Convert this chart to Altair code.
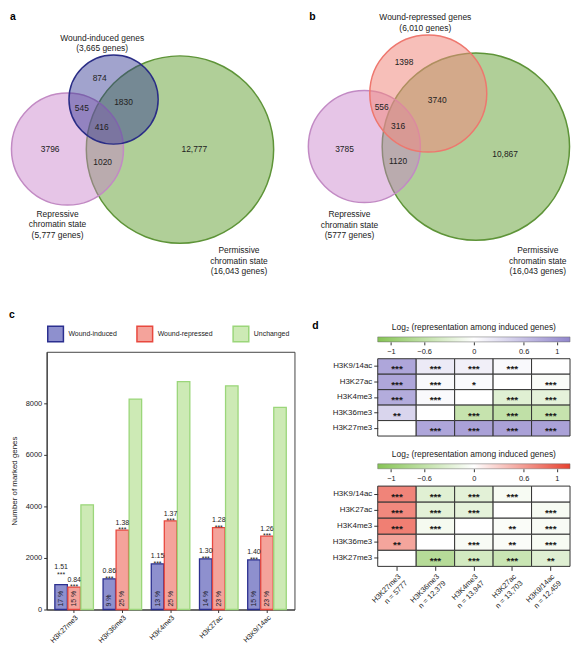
import altair as alt
import pandas as pd

# ---------------- data ----------------
venn_a_counts = ["874", "1830", "545", "416", "3796", "1020", "12,777"]
venn_a_titles = ["Wound-induced genes", "(3,665 genes)",
                 "Repressive", "chromatin state", "(5,777 genes)",
                 "Permissive", "chromatin state", "(16,043 genes)"]
venn_b_counts = ["1398", "3740", "556", "316", "3785", "1120", "10,867"]
venn_b_titles = ["Wound-repressed genes", "(6,010 genes)",
                 "Repressive", "chromatin state", "(5777 genes)",
                 "Permissive", "chromatin state", "(16,043 genes)"]

marks = ["H3K27me3", "H3K36me3", "H3K4me3", "H3K27ac", "H3K9/14ac"]
groups = ["Wound-induced", "Wound-repressed", "Unchanged"]
induced = [962, 1192, 1769, 1962, 1923]
repressed = [872, 3077, 3436, 3179, 2846]
unchanged = [4064, 8167, 8846, 8679, 7846]
induced_ratio = ["1.51", "0.86", "1.15", "1.30", "1.40"]
repressed_ratio = ["0.84", "1.38", "1.37", "1.28", "1.26"]
induced_pct = ["17 %", "9 %", "13 %", "14 %", "15 %"]
repressed_pct = ["15 %", "25 %", "25 %", "23 %", "23 %"]
y_ticks = [0, 2000, 4000, 6000, 8000]

hm_rows = ["H3K9/14ac", "H3K27ac", "H3K4me3", "H3K36me3", "H3K27me3"]
hm_cols = ["H3K27me3", "H3K36me3", "H3K4me3", "H3K27ac", "H3K9/14ac"]
hm_n = ["n = 5777", "n = 12,379", "n = 13,947", "n = 13,703", "n = 12,459"]
ind_vals = [
    [0.85, 0.20, 0.15, 0.06, 0.0],
    [0.85, 0.06, 0.05, 0.0, -0.05],
    [0.80, 0.06, 0.0, -0.30, -0.25],
    [0.40, 0.0, -0.55, -0.60, -0.55],
    [0.0, 0.85, 0.90, 0.90, 0.90],
]
ind_stars = [
    ["***", "***", "***", "***", ""],
    ["***", "***", "*", "", "***"],
    ["***", "***", "", "***", "***"],
    ["**", "", "***", "***", "***"],
    ["", "***", "***", "***", "***"],
]
rep_vals = [
    [0.75, -0.30, -0.27, -0.08, 0.0],
    [0.72, -0.27, -0.25, 0.0, -0.08],
    [0.78, -0.10, 0.0, -0.05, -0.07],
    [0.55, 0.0, -0.07, -0.05, -0.08],
    [0.0, -0.70, -0.42, -0.52, -0.31],
]
rep_stars = [
    ["***", "***", "***", "***", ""],
    ["***", "***", "***", "", "***"],
    ["***", "***", "", "**", "***"],
    ["**", "", "***", "**", "***"],
    ["", "***", "***", "***", "**"],
]
cb_ticks = [-1, -0.6, 0, 0.6, 1]
cb_title = "Log\u2082 (representation among induced genes)"

# ---------------- layout / style ----------------
FONT = "Liberation Sans"
TXT = "#222222"
HT = 297
A_CIRCLES = [(180.5, 147, 94.5), (67, 146.5, 56.5), (113.5, 96.5, 45)]
A_FILL = ["#6FA843", "#C77FC9", "#2F3391"]
A_STROKE = ["#5E9438", "#C28AC4", "#2A2D86"]
A_OP = [0.55, 0.45, 0.45]
A_COUNT_POS = [(99.5, 75), (123.5, 99.5), (81.5, 105.5), (101.5, 124),
               (49.5, 146.5), (102.5, 159.5), (195, 146.5)]
A_TITLE_POS = [(102, 34), (102, 44.5), (57, 212), (57, 222.5), (57, 233),
               (240, 248.5), (240, 259), (240, 269.5)]
B_CIRCLES = [(477, 144, 94.5), (364.5, 144, 56.5), (429, 90.5, 59)]
B_FILL = ["#6FA843", "#C77FC9", "#F08A80"]
B_STROKE = ["#5E9438", "#C28AC4", "#EE776E"]
B_OP = [0.55, 0.45, 0.55]
B_COUNT_POS = [(404.5, 58.5), (438, 97.5), (382, 104.5), (398.5, 123.5),
               (344.5, 146.5), (398.5, 158.5), (506.5, 151.5)]
B_TITLE_POS = [(426, 13.5), (426, 24), (349.5, 212.5), (349.5, 223), (349.5, 233.5),
               (539.5, 248.5), (539.5, 259), (539.5, 269.5)]

BAR_FILL = ["#8E90CE", "#F4A39B", "#CDEAB5"]
BAR_STROKE = ["#2B2F8F", "#E8483E", "#9BD67A"]
GREEN_END = "#86C455"
PURPLE_END = "#9186CC"
RED_END = "#E8412F"
CB_DOMAIN = [-1.16, 1.16]
CB_W = 194

IND = dict(fill="independent", stroke="independent", color="independent")


def letter(t, x, y):
    return alt.Chart(pd.DataFrame({"t": [t]})).mark_text(
        fontSize=10.5, fontWeight="bold", color="black", align="left", baseline="top").encode(
        x=alt.value(x), y=alt.value(y), text="t:N")


def venn(xdom, width, circles, fills, strokes, ops, counts, cpos, titles, tpos, let, let_x):
    cdf = pd.DataFrame({
        "x": [c[0] for c in circles], "y": [c[1] for c in circles],
        "size": [4 * c[2] ** 2 for c in circles],
        "fill": fills, "stroke": strokes, "op": ops, "order": [0, 1, 2],
    })
    xs = alt.Scale(domain=xdom, nice=False, zero=False)
    ys = alt.Scale(domain=[8, 8 + HT], nice=False, zero=False, reverse=True)
    circ = alt.Chart(cdf).mark_circle(opacity=1, strokeWidth=1.5).encode(
        x=alt.X("x:Q", scale=xs, axis=None),
        y=alt.Y("y:Q", scale=ys, axis=None),
        size=alt.Size("size:Q", scale=None),
        fill=alt.Fill("fill:N", scale=None),
        stroke=alt.Stroke("stroke:N", scale=None),
        fillOpacity=alt.FillOpacity("op:Q", scale=None),
        order="order:Q",
    )
    tdf = pd.DataFrame({
        "x": [p[0] for p in cpos] + [p[0] for p in tpos] + [let_x],
        "y": [p[1] for p in cpos] + [p[1] for p in tpos] + [8],
        "t": counts + titles + [let],
        "kind": ["n"] * (len(cpos) + len(tpos)) + ["letter"],
    })
    txt = alt.Chart(tdf).transform_filter("datum.kind == 'n'").mark_text(
        fontSize=8.5, color=TXT, baseline="middle").encode(
        x=alt.X("x:Q", scale=xs, axis=None), y=alt.Y("y:Q", scale=ys, axis=None), text="t:N")
    let_t = alt.Chart(tdf).transform_filter("datum.kind == 'letter'").mark_text(
        fontSize=10.5, fontWeight="bold", color="black", align="left", baseline="top").encode(
        x=alt.X("x:Q", scale=xs, axis=None), y=alt.Y("y:Q", scale=ys, axis=None), text="t:N")
    return alt.layer(circ, txt, let_t).properties(width=width, height=HT)


# panel a's plot origin sits where panel c's plot starts (x = 46)
venn_a = venn([46, 293], 247, A_CIRCLES, A_FILL, A_STROKE, A_OP, venn_a_counts,
              A_COUNT_POS, venn_a_titles, A_TITLE_POS, "a", 9)
venn_b = venn([293, 573], 280, B_CIRCLES, B_FILL, B_STROKE, B_OP, venn_b_counts,
              B_COUNT_POS, venn_b_titles, B_TITLE_POS, "b", 309)

# ---------------- panel c ----------------
rows = []
for i, m in enumerate(marks):
    rows.append({"mark": m, "group": groups[0], "value": induced[i],
                 "ratio": induced_ratio[i], "pct": induced_pct[i]})
    rows.append({"mark": m, "group": groups[1], "value": repressed[i],
                 "ratio": repressed_ratio[i], "pct": repressed_pct[i]})
    rows.append({"mark": m, "group": groups[2], "value": unchanged[i],
                 "ratio": "", "pct": ""})
bdf = pd.DataFrame(rows)

FILL_SCALE = alt.Scale(domain=groups, range=BAR_FILL)
STROKE_SCALE = alt.Scale(domain=groups, range=BAR_STROKE)
LEG = alt.Legend(title=None, orient="none", legendX=0, legendY=-12, direction="horizontal",
                 columns=3, symbolType="square", symbolSize=250, symbolStrokeWidth=1.5,
                 symbolOpacity=1, labelFontSize=7, labelOffset=4, columnPadding=17,
                 labelColor=TXT)

header = alt.layer(
    alt.Chart(pd.DataFrame({"group": groups})).mark_point(filled=True, size=0).encode(
        fill=alt.Fill("group:N", scale=FILL_SCALE, legend=LEG),
        stroke=alt.Stroke("group:N", scale=STROKE_SCALE, legend=LEG)),
    letter("c", -38, -27),
).properties(width=250, height=5)

X = alt.X("mark:N", sort=marks, scale=alt.Scale(paddingInner=0.2, paddingOuter=0.17),
          axis=alt.Axis(title=None, labelAngle=-45, labelFontSize=7.2, tickSize=3,
                        labelPadding=1, labelOverlap=False))
XO = alt.XOffset("group:N", sort=groups, scale=alt.Scale(paddingInner=0.04))
YS = alt.Scale(domain=[0, 10000], nice=False)

base = alt.Chart(bdf)
bars = base.mark_bar(strokeWidth=1.3).encode(
    x=X, xOffset=XO,
    y=alt.Y("value:Q", scale=YS,
            axis=alt.Axis(values=y_ticks, format="d", title="Number of marked genes",
                          titleFontSize=8, titleFontWeight="normal", labelFontSize=7.5,
                          tickSize=3, grid=False, titlePadding=7)),
    fill=alt.Fill("group:N", scale=FILL_SCALE, legend=None),
    stroke=alt.Stroke("group:N", scale=STROKE_SCALE, legend=None),
)
lab = base.transform_filter("datum.ratio != ''").transform_calculate(
    ly="datum.value + (datum.mark == 'H3K27me3' && datum.group == 'Wound-induced' ? 385 : 0)")
ratio_t = lab.mark_text(fontSize=7, dy=-5.5, baseline="alphabetic", color=TXT).encode(
    x=X, xOffset=XO, y=alt.Y("ly:Q", scale=YS), text="ratio:N")
star_t = lab.mark_text(fontSize=7, dy=2, baseline="alphabetic", color=TXT).encode(
    x=X, xOffset=XO, y=alt.Y("ly:Q", scale=YS), text=alt.value("***"))
pct_t = lab.mark_text(fontSize=7, angle=270, align="left", baseline="middle", dx=3,
                      color="#1a1a2a").encode(
    x=X, xOffset=XO, y=alt.datum(0, scale=YS), text="pct:N")

bar_chart = alt.layer(bars, ratio_t, star_t, pct_t).properties(
    width=250, height=260, view=alt.ViewBackground(stroke="#444444", strokeWidth=1))

bar_col = alt.vconcat(header, bar_chart, spacing=5).resolve_scale(**IND)

# ---------------- panel d ----------------
col_labels = [f"{c}\n{n}" for c, n in zip(hm_cols, hm_n)]


def heat(vals, stars, end_color, height, show_x):
    recs = []
    for i, r in enumerate(hm_rows):
        for j, c in enumerate(col_labels):
            recs.append({"row": r, "col": c, "v": vals[i][j], "s": stars[i][j]})
    df = pd.DataFrame(recs)
    if show_x:
        xax = alt.Axis(title=None, labelAngle=-45, labelFontSize=7.5, tickSize=4, domain=False,
                       labelPadding=2, labelOverlap=False,
                       labelExpr="split(datum.label, '\\n')")
    else:
        xax = None
    x = alt.X("col:N", sort=col_labels, scale=alt.Scale(paddingInner=0, paddingOuter=0), axis=xax)
    y = alt.Y("row:N", sort=hm_rows, scale=alt.Scale(paddingInner=0, paddingOuter=0),
              axis=alt.Axis(title=None, labelFontSize=8, tickSize=4, domain=False, labelPadding=2))
    rect = alt.Chart(df).mark_rect(stroke="#333333", strokeWidth=1).encode(
        x=x, y=y,
        color=alt.Color("v:Q", scale=alt.Scale(domain=[CB_DOMAIN[0], 0, CB_DOMAIN[1]],
                                               range=[GREEN_END, "#FFFFFF", end_color],
                                               interpolate="rgb"), legend=None))
    txt = alt.Chart(df).mark_text(fontSize=10, fontWeight="bold", baseline="alphabetic",
                                  dy=6, color="#1a1a1a").encode(x=x, y=y, text="s:N")
    return alt.layer(rect, txt).properties(width=CB_W, height=height)


def cbar(end_color, first):
    df = pd.DataFrame({"lo": [CB_DOMAIN[0]], "hi": [CB_DOMAIN[1]]})
    grad = alt.LinearGradient(gradient="linear", x1=0, x2=1, y1=0, y2=0, stops=[
        alt.GradientStop(offset=0, color=GREEN_END),
        alt.GradientStop(offset=0.5, color="#FFFFFF"),
        alt.GradientStop(offset=1, color=end_color)])
    bar = alt.Chart(df).mark_rect(fill=grad, stroke="#666666", strokeWidth=0.5).encode(
        x=alt.X("lo:Q", scale=alt.Scale(domain=CB_DOMAIN, nice=False, zero=False),
                axis=alt.Axis(values=cb_ticks, format="~g", title=None, tickSize=3, domain=False,
                              labelFontSize=7.5, grid=False, labelPadding=3)),
        x2="hi:Q")
    title = alt.Chart(pd.DataFrame({"t": [cb_title]})).mark_text(
        fontSize=8.5, color=TXT, baseline="middle").encode(
        x=alt.value(CB_W / 2), y=alt.value(-9.5), text="t:N")
    layers = [bar, title]
    if first:
        layers.append(letter("d", -66, -16))
    return alt.layer(*layers).properties(width=CB_W, height=5)


heat_col = alt.vconcat(
    alt.vconcat(cbar(PURPLE_END, True), heat(ind_vals, ind_stars, PURPLE_END, 78, False),
                spacing=2).resolve_scale(**IND),
    alt.vconcat(cbar(RED_END, False), heat(rep_vals, rep_stars, RED_END, 81, True),
                spacing=2.5).resolve_scale(**IND),
    spacing=13).resolve_scale(**IND)

top = alt.hconcat(venn_a, venn_b, spacing=0)
bottom = alt.hconcat(bar_col, heat_col, spacing=16).resolve_scale(**IND)

chart = alt.vconcat(top, bottom, spacing=2).resolve_scale(**IND).properties(
    padding=0).configure(font=FONT).configure_view(stroke="transparent").configure_axis(
    labelColor=TXT, titleColor=TXT, tickColor="#333333", domainColor="#333333", labelFont=FONT)

chart.save("out.html", embed_options={"renderer": "svg", "actions": False})
